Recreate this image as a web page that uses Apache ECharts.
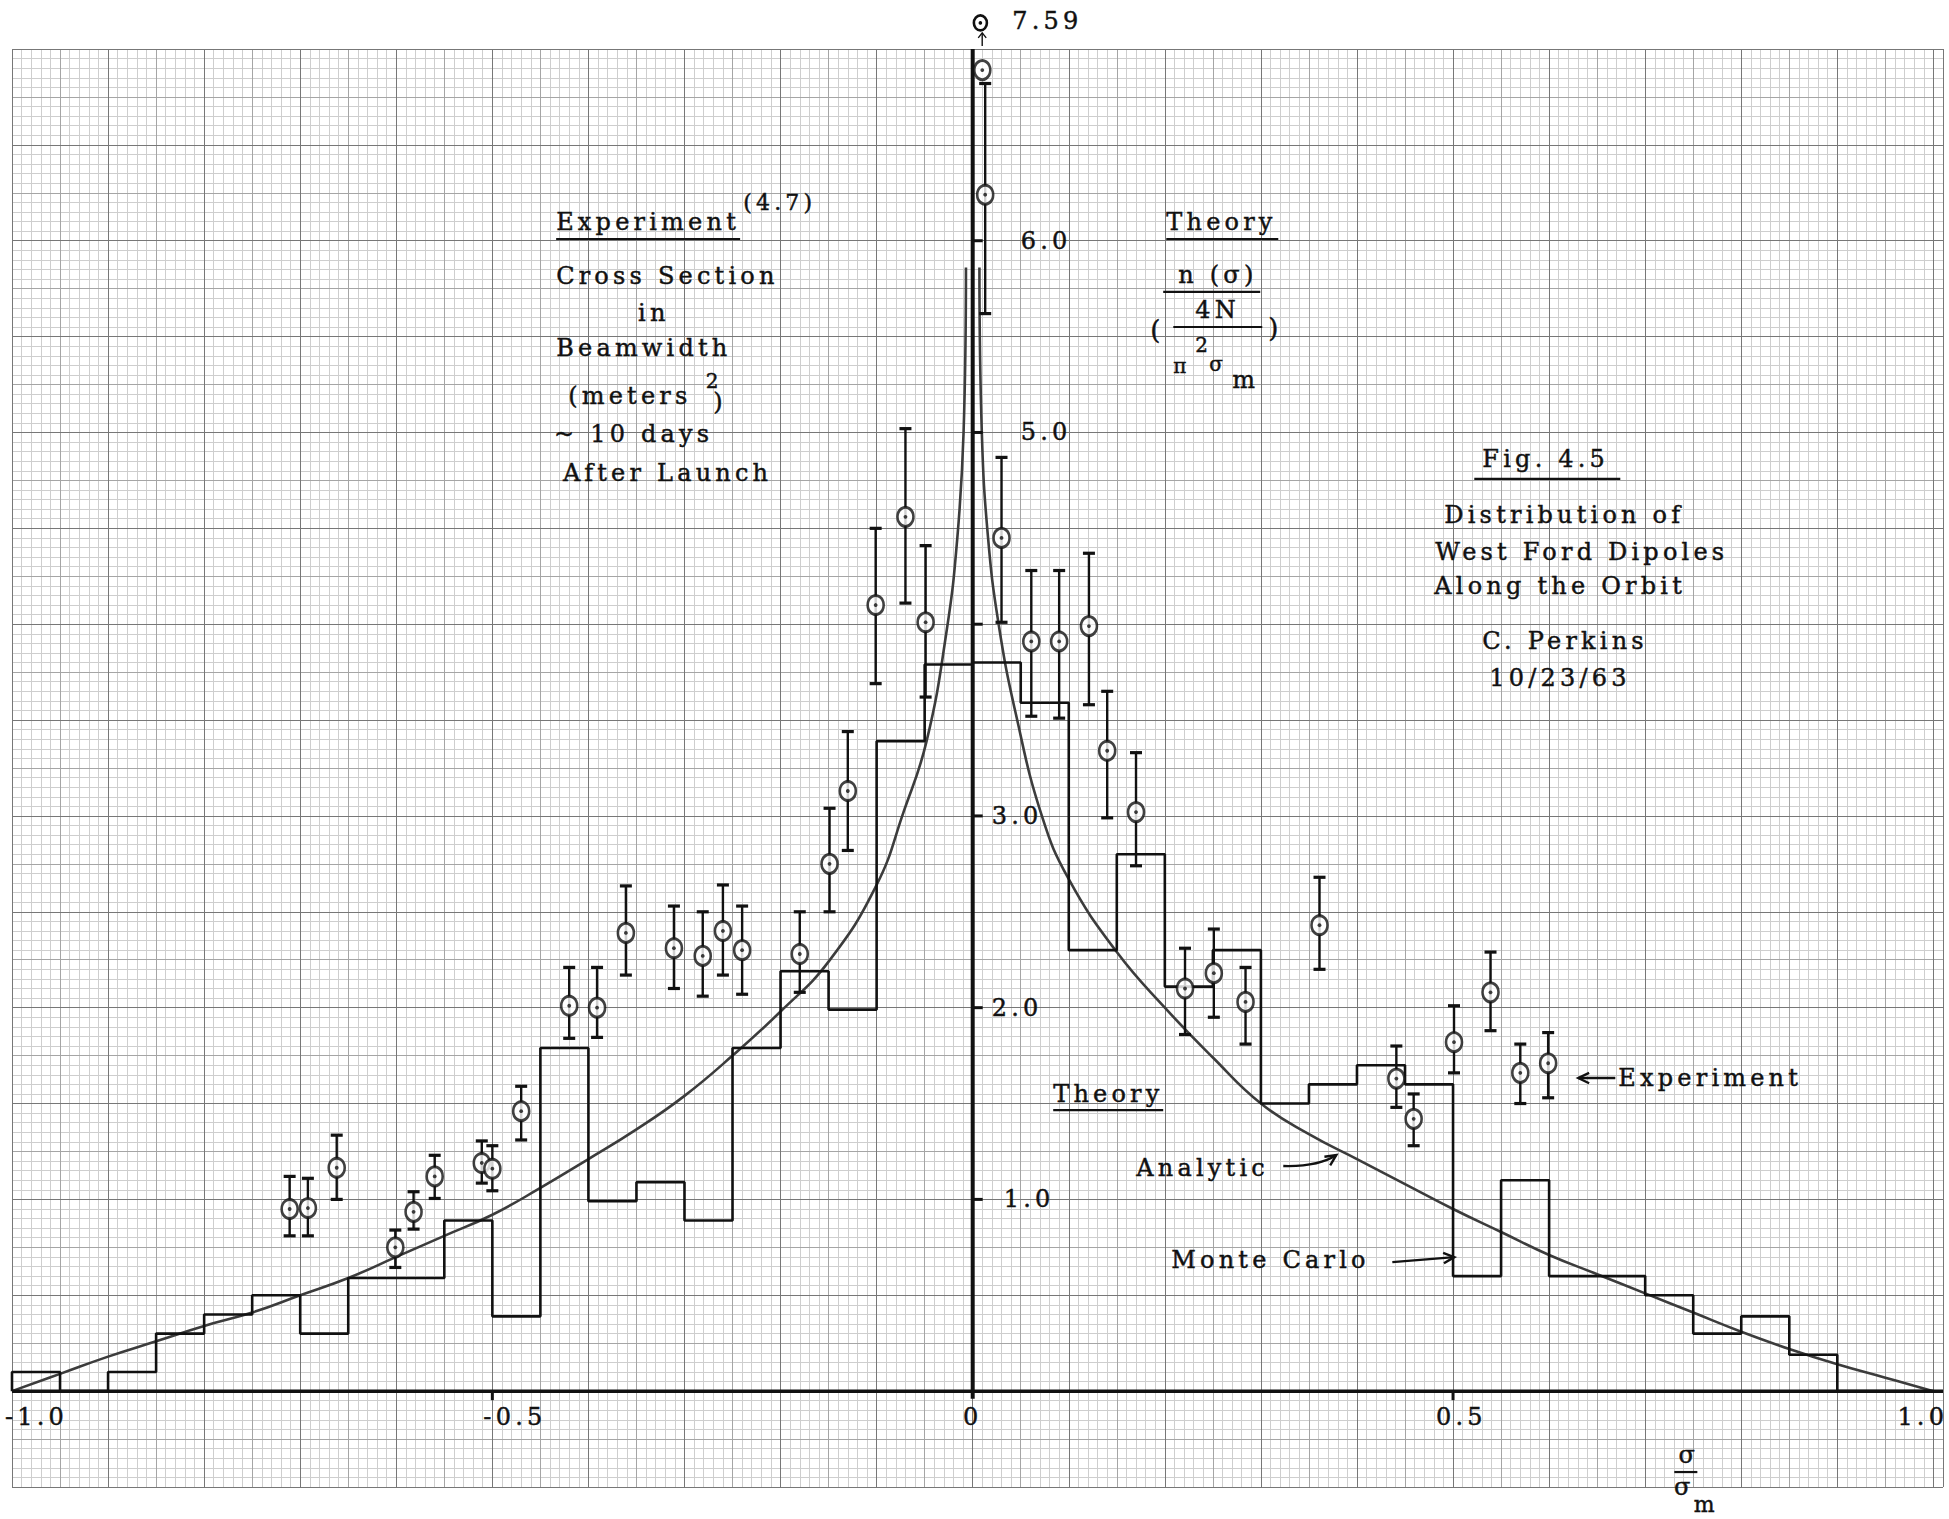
<!DOCTYPE html>
<html>
<head>
<meta charset="utf-8">
<script src="https://cdn.jsdelivr.net/npm/echarts/dist/echarts.min.js"></script>
<style>
html,body{margin:0;padding:0;background:#fff;}
#chart{width:1949px;height:1519px;}
#chart svg text{letter-spacing:4.2px;}
</style>
</head>
<body>
<div id="chart"></div>
<script>
/* Fig. 4.5 - West Ford dipoles along the orbit, redrawn on "graph paper". */

// Monte Carlo histogram: bin edges and bin heights
var binEdges = [-1.00,-0.95,-0.90,-0.85,-0.80,-0.75,-0.70,-0.65,-0.60,-0.55,-0.50,
  -0.45,-0.40,-0.35,-0.30,-0.25,-0.20,-0.15,-0.10,-0.05,0.00,
  0.05,0.10,0.15,0.20,0.25,0.30,0.35,0.40,0.45,0.50,
  0.55,0.60,0.65,0.70,0.75,0.80,0.85,0.90,0.95,1.00];
var monteCarlo = [0.10,0.00,0.10,0.30,0.40,0.50,0.30,0.59,0.59,0.89,
  0.39,1.79,0.99,1.09,0.89,1.79,2.19,1.99,3.39,3.79,
  3.80,3.59,2.30,2.80,2.11,2.30,1.50,1.60,1.70,1.60,
  0.60,1.10,0.60,0.60,0.50,0.30,0.39,0.19,0.00,0.00];

// analytic theory curve (two branches, spike at 0)
var analyticLeft = [[-1.0,0],[-0.95,0.09],[-0.9,0.18],[-0.85,0.26],[-0.8,0.34],[-0.75,0.41],
  [-0.7,0.50],[-0.65,0.59],[-0.6,0.70],[-0.55,0.81],[-0.5,0.92],[-0.45,1.06],[-0.4,1.21],
  [-0.35,1.365],[-0.3,1.54],[-0.25,1.75],[-0.2,1.98],[-0.15,2.24],[-0.1,2.64],[-0.072,3.02],
  [-0.048,3.39],[-0.027,3.97],[-0.016,4.45],[-0.0095,5.0],[-0.007,5.86]];
var analyticRight = [[0.007,5.86],[0.0095,5.0],[0.016,4.45],[0.027,4.0],[0.045,3.53],[0.072,3.0],
  [0.1,2.67],[0.15,2.29],[0.2,2.0],[0.25,1.74],[0.3,1.5],[0.35,1.34],[0.4,1.21],[0.45,1.08],
  [0.5,0.95],[0.55,0.83],[0.6,0.71],[0.65,0.61],[0.7,0.51],[0.75,0.41],[0.8,0.31],
  [0.85,0.22],[0.9,0.14],[0.95,0.07],[1.0,0]];

// experiment points with error bars
var expX  = [-0.711,-0.692,-0.662,-0.601,-0.582,-0.560,-0.511,-0.500,-0.470,-0.420,-0.391,-0.361,
  -0.311,-0.281,-0.260,-0.240,-0.180,-0.149,-0.130,-0.101,-0.070,-0.049,0.010,0.013,
  0.030,0.061,0.090,0.121,0.140,0.170,0.221,0.251,0.284,0.361,0.441,0.459,0.501,0.539,0.570,0.599];
var expY  = [0.95,0.955,1.165,0.75,0.935,1.12,1.19,1.16,1.46,2.01,2.00,2.39,
  2.31,2.27,2.40,2.30,2.28,2.75,3.13,4.10,4.56,4.01,6.89,6.24,
  4.45,3.91,3.91,3.99,3.34,3.02,2.10,2.18,2.03,2.43,1.63,1.42,1.82,2.08,1.66,1.71];
var expLo = [0.81,0.81,1.00,0.645,0.845,1.005,1.085,1.045,1.31,1.84,1.845,2.17,
  2.10,2.06,2.17,2.07,2.08,2.50,2.82,3.69,4.11,3.62,null,5.62,
  4.01,3.52,3.51,3.58,2.99,2.74,1.86,1.95,1.81,2.20,1.48,1.28,1.66,1.88,1.50,1.53];
var expHi = [1.12,1.11,1.335,0.84,1.04,1.23,1.305,1.28,1.59,2.21,2.21,2.635,
  2.53,2.50,2.64,2.53,2.50,3.04,3.44,4.50,5.02,4.41,null,6.82,
  4.87,4.28,4.28,4.37,3.65,3.33,2.31,2.41,2.21,2.68,1.80,1.55,2.01,2.29,1.81,1.87];
var offScaleX = 0.008, offScaleValue = 7.59;

// ticks and tick labels
var yTickValues = [1,2,3,4,5,6];
var yLabelValues = [1,2,3,5,6];
var yLabelText = ['1.0','2.0','3.0','5.0','6.0'];
var xTickValues = [-0.5,0.5];
var xLabelValues = [-1,-0.5,0,0.5,1];
var xLabelText = ['-1.0','-0.5','0','0.5','1.0'];

var INK = '#111';
var FONT = '"DejaVu Serif", "Liberation Serif", serif';
var chart = echarts.init(document.getElementById('chart'), null, {renderer:'svg'});

function paperX(interval, color, z){
  return {type:'value', min:-1, max:1.01, interval:interval, z:z,
    axisLine:{show:false}, axisTick:{show:false}, axisLabel:{show:false},
    splitLine:{show:true, lineStyle:{color:color, width:1}}};
}
function paperY(interval, color, z){
  return {type:'value', min:-0.5, max:7, interval:interval, z:z,
    axisLine:{show:false}, axisTick:{show:false}, axisLabel:{show:false},
    splitLine:{show:true, lineStyle:{color:color, width:1}}};
}

var histPts = [[binEdges[0],0]];
for (var i=0;i<monteCarlo.length;i++) histPts.push([binEdges[i], monteCarlo[i]]);
histPts.push([binEdges[binEdges.length-1], monteCarlo[monteCarlo.length-1]]);
histPts.push([binEdges[binEdges.length-1], 0]);

var pts = expX.map(function(x,k){ return [x, expY[k]]; });
var bars = [];
expX.forEach(function(x,k){ if(expLo[k]!=null) bars.push([x, expLo[k], expHi[k]]); });

chart.setOption({
  animation:false,
  backgroundColor:'#fff',
  grid:{left:12, top:49, width:1931, height:1438, containLabel:false, outerBoundsMode:'none'},
  xAxis:[paperX(0.1,'#777',3), paperX(0.05,'#a5a5a5',2), paperX(0.01,'#cecece',1)],
  yAxis:[paperY(0.5,'#777',3), paperY(0.25,'#a5a5a5',2), paperY(0.05,'#cecece',1)],
  series:[
    {type:'line', name:'Monte Carlo', data:histPts, step:'end', symbol:'none', z:10,
      lineStyle:{color:INK, width:2.6}},
    {type:'line', name:'Analytic L', data:analyticLeft, smooth:0.45, symbol:'none', z:9,
      lineStyle:{color:'#3c3c3c', width:2.6}},
    {type:'line', name:'Analytic R', data:analyticRight, smooth:0.45, symbol:'none', z:9,
      lineStyle:{color:'#3c3c3c', width:2.6}},
    {type:'line', name:'x axis', data:[[-1,0],[1.01,0]], symbol:'none', z:11,
      lineStyle:{color:INK, width:3.5}},
    {type:'line', name:'y axis', data:[[0,-0.04],[0,7]], symbol:'none', z:11,
      lineStyle:{color:INK, width:4}},
    {type:'custom', name:'y ticks', data:yTickValues, z:11,
      renderItem:function(p, api){
        var c = api.coord([0, api.value(0)]);
        return {type:'line', shape:{x1:c[0], y1:c[1], x2:c[0]+10, y2:c[1]}, style:{stroke:INK, lineWidth:3}};
      }},
    {type:'custom', name:'x ticks', data:xTickValues, z:11,
      renderItem:function(p, api){
        var c = api.coord([api.value(0), 0]);
        return {type:'line', shape:{x1:c[0], y1:c[1], x2:c[0], y2:c[1]+9}, style:{stroke:INK, lineWidth:3}};
      }},
    {type:'custom', name:'error bars', data:bars, z:12,
      renderItem:function(p, api){
        var x = api.value(0);
        var a = api.coord([x, api.value(2)]), b = api.coord([x, api.value(1)]);
        var w = 6;
        return {type:'group', children:[
          {type:'line', shape:{x1:a[0], y1:a[1], x2:b[0], y2:b[1]}, style:{stroke:INK, lineWidth:2.4}},
          {type:'line', shape:{x1:a[0]-w, y1:a[1], x2:a[0]+w, y2:a[1]}, style:{stroke:INK, lineWidth:3.2}},
          {type:'line', shape:{x1:b[0]-w, y1:b[1], x2:b[0]+w, y2:b[1]}, style:{stroke:INK, lineWidth:3.2}}
        ]};
      }},
    {type:'scatter', name:'Experiment', data:pts, symbol:'circle', symbolSize:[16,19], z:13,
      itemStyle:{color:'#fff', borderColor:INK, borderWidth:2.8}},
    {type:'scatter', name:'Experiment dot', data:pts, symbol:'circle', symbolSize:3.8, z:14,
      itemStyle:{color:INK}}
  ]
});

// annotations (positions in data units)
var notes = [
  {t:'Experiment', x:-0.4336, y:6.097},
  {t:'(4.7)', x:-0.2389, y:6.197, s:22},
  {t:'Cross Section', x:-0.4336, y:5.816},
  {t:'in', x:-0.3483, y:5.622},
  {t:'Beamwidth', x:-0.4336, y:5.441},
  {t:'(meters', x:-0.4211, y:5.190},
  {t:'2', x:-0.2779, y:5.270, s:20},
  {t:')', x:-0.2701, y:5.159},
  {t:'~ 10 days', x:-0.4357, y:4.991},
  {t:'After Launch', x:-0.4264, y:4.788},
  {t:'Theory', x:0.2015, y:6.097},
  {t:'n (σ)', x:0.2140, y:5.821},
  {t:'4N', x:0.2316, y:5.639},
  {t:'(', x:0.1848, y:5.534, s:26},
  {t:')', x:0.3077, y:5.545, s:26},
  {t:'2', x:0.2316, y:5.456, s:20},
  {t:'π', x:0.2088, y:5.347, s:20},
  {t:'σ', x:0.2462, y:5.357, s:20},
  {t:'m', x:0.2701, y:5.273},
  {t:'Fig. 4.5', x:0.5305, y:4.862},
  {t:'Distribution of', x:0.4909, y:4.570},
  {t:'West Ford Dipoles', x:0.4815, y:4.377},
  {t:'Along the Orbit', x:0.4805, y:4.199},
  {t:'C. Perkins', x:0.5305, y:3.912},
  {t:'10/23/63', x:0.5377, y:3.719},
  {t:'Theory', x:0.0838, y:1.550},
  {t:'Analytic', x:0.1702, y:1.163},
  {t:'Monte Carlo', x:0.2067, y:0.683},
  {t:'Experiment', x:0.6720, y:1.633},
  {t:String(offScaleValue), x:0.0411, y:7.146},
  {t:'σ', x:0.7454, y:-0.333, a:'center'},
  {t:'σ', x:0.7408, y:-0.5005, a:'center'},
  {t:'m', x:0.7637, y:-0.590, a:'center', s:22}
];
var rules = [[-0.4336,-0.2421,6.009],[0.2015,0.3181,6.009],[0.1983,0.2993,5.733],[0.2088,0.3014,5.550],
  [0.5221,0.6741,4.758],[0.0838,0.1983,1.466],[0.7303,0.7543,-0.422]];
var yLabelDx = [31,19,19,48,48];
var xLabelDx = [-7,-9,0,-17,-36];

function P(x,y){ return chart.convertToPixel({xAxisIndex:0, yAxisIndex:0}, [x,y]); }
function txt(t, p, size, align){
  return {type:'text', x:p[0], y:p[1], z:30, silent:true,
    style:{text:t, font:size+'px '+FONT, fill:INK, stroke:INK, lineWidth:0.45,
      align:align||'left', verticalAlign:'middle', textAlign:align||'left', textVerticalAlign:'middle'}};
}
function head(tip, from){
  var ang = Math.atan2(tip[1]-from[1], tip[0]-from[0]), L = 12, s = 0.45;
  return {type:'polyline', z:30, shape:{points:[
    [tip[0]-L*Math.cos(ang-s), tip[1]-L*Math.sin(ang-s)], tip,
    [tip[0]-L*Math.cos(ang+s), tip[1]-L*Math.sin(ang+s)]]},
    style:{stroke:INK, lineWidth:2.4, fill:null}};
}
function seg(a, b, w){
  return {type:'line', z:30, shape:{x1:a[0], y1:a[1], x2:b[0], y2:b[1]}, style:{stroke:INK, lineWidth:w||2.2}};
}

var g = [];
notes.forEach(function(n){ g.push(txt(n.t, P(n.x, n.y), n.s||24, n.a)); });
rules.forEach(function(r){ g.push(seg(P(r[0], r[2]), P(r[1], r[2]), 2.2)); });
yLabelValues.forEach(function(v,k){
  var p = P(0, v); g.push(txt(yLabelText[k], [p[0]+yLabelDx[k], p[1]], 24));
});
xLabelValues.forEach(function(v,k){
  var p = P(v, -0.135);
  g.push(txt(xLabelText[k], [p[0]+xLabelDx[k], p[1]], 24, xLabelDx[k]===0 ? 'center' : 'left'));
});
// arrows
var a0 = P(0.3233,1.174), ac = P(0.3597,1.169), a1 = P(0.3785,1.231);
g.push({type:'bezierCurve', z:30, shape:{x1:a0[0], y1:a0[1], cpx1:ac[0], cpy1:ac[1], x2:a1[0], y2:a1[1]},
  style:{stroke:INK, lineWidth:2.4, fill:null}});
g.push(head(a1, ac));
var m0 = P(0.4368,0.673), m1 = P(0.5013,0.699);
g.push(seg(m0, m1, 2.4)); g.push(head(m1, m0));
var e0 = P(0.6689,1.633), e1 = P(0.6304,1.633);
g.push(seg(e0, e1, 2.4)); g.push(head(e1, e0));
var u0 = P(0.0099,7.016), u1 = P(0.0099,7.084);
g.push(seg(u0, u1, 1.4));
g.push({type:'polyline', z:30, shape:{points:[[u1[0]-4,u1[1]+5],u1,[u1[0]+4,u1[1]+5]]}, style:{stroke:INK, lineWidth:1.4, fill:null}});
// off-scale point marker
var o = P(offScaleX, 7.136);
g.push({type:'ellipse', z:30, shape:{cx:o[0], cy:o[1], rx:6.5, ry:7.5}, style:{stroke:INK, lineWidth:2.6, fill:'#fff'}});
g.push({type:'circle', z:31, shape:{cx:o[0], cy:o[1], r:1.8}, style:{fill:INK}});

chart.setOption({graphic:g});
</script>
</body>
</html>
